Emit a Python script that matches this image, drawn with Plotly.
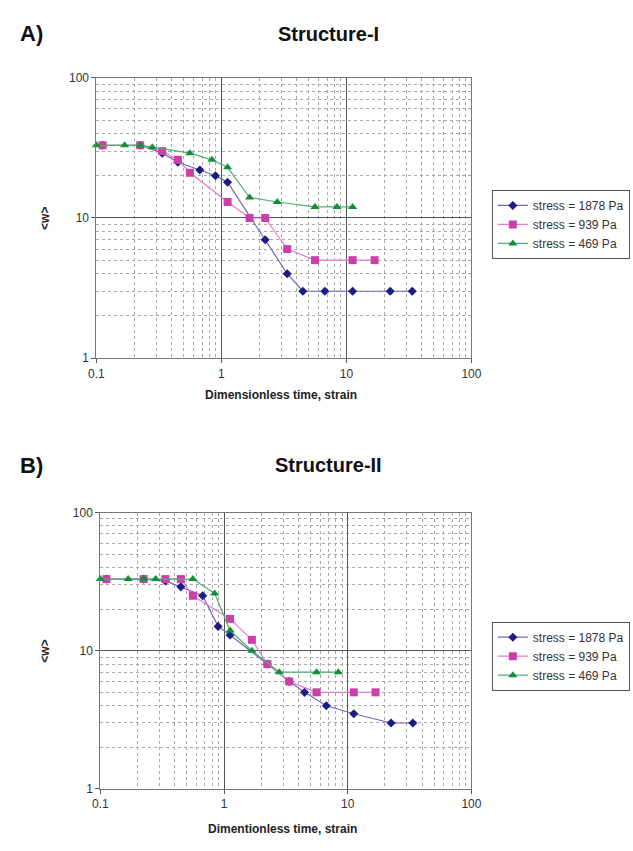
import plotly.graph_objects as go

# ---------------- Data ----------------
series_names = ["stress = 1878 Pa", "stress = 939 Pa", "stress = 469 Pa"]

# Structure-I
s1_x_1878 = [0.112, 0.224, 0.336, 0.448, 0.672, 0.896, 1.12, 2.24, 3.36, 4.48, 6.72, 11.2, 22.4, 33.6]
s1_y_1878 = [33, 33, 29, 25, 22, 20, 18, 7, 4, 3, 3, 3, 3, 3]
s1_x_939 = [0.112, 0.224, 0.336, 0.448, 0.56, 1.12, 1.68, 2.24, 3.36, 5.6, 11.2, 16.8]
s1_y_939 = [33, 33, 30, 26, 21, 13, 10, 10, 6, 5, 5, 5]
s1_x_469 = [0.1, 0.168, 0.224, 0.28, 0.56, 0.84, 1.12, 1.68, 2.8, 5.6, 8.4, 11.2]
s1_y_469 = [33, 33, 33, 32, 29, 26, 23, 14, 13, 12, 12, 12]

# Structure-II
s2_x_1878 = [0.112, 0.224, 0.336, 0.448, 0.672, 0.896, 1.12, 2.24, 3.36, 4.48, 6.72, 11.2, 22.4, 33.6]
s2_y_1878 = [33, 33, 32, 29, 25, 15, 13, 8, 6, 5, 4, 3.5, 3, 3]
s2_x_939 = [0.112, 0.224, 0.336, 0.448, 0.56, 1.12, 1.68, 2.24, 3.36, 5.6, 11.2, 16.8]
s2_y_939 = [33, 33, 33, 33, 25, 17, 12, 8, 6, 5, 5, 5]
s2_x_469 = [0.1, 0.168, 0.224, 0.28, 0.56, 0.84, 1.12, 1.68, 2.8, 5.6, 8.4]
s2_y_469 = [33, 33, 33, 33, 33, 26, 14, 10, 7, 7, 7]

x_ticks = [0.1, 1, 10, 100]
x_ticktext = ["0.1", "1", "10", "100"]
y_ticks = [1, 10, 100]
y_ticktext = ["1", "10", "100"]

titles = ["Structure-I", "Structure-II"]
panel_labels = ["A)", "B)"]
x_titles = ["Dimensionless time, strain", "Dimentionless time, strain"]
y_title = "&lt;w&gt;"

# ---------------- Styles ----------------
W, H = 633, 851
FONT = "Arial, Liberation Sans, sans-serif"
marker_colors = ["#1c1c84", "#cc3fa8", "#0e8f3a"]
line_colors = ["#6a6ab4", "#e07ccc", "#4fb070"]
symbols = ["diamond", "square", "triangle-up"]
msizes = [7, 8, 8]

minor_x = [m * d for d in (0.1, 1, 10) for m in range(2, 10)]
minor_y = [m * d for d in (1, 10) for m in range(2, 10)]


def px_x(p):
    return p / W


def px_y(p):
    return 1 - p / H


fig = go.Figure()

panels = [
    (1, [(s1_x_1878, s1_y_1878), (s1_x_939, s1_y_939), (s1_x_469, s1_y_469)], "legend"),
    (2, [(s2_x_1878, s2_y_1878), (s2_x_939, s2_y_939), (s2_x_469, s2_y_469)], "legend2"),
]

for idx, data, leg in panels:
    xa = "x" if idx == 1 else "x2"
    ya = "y" if idx == 1 else "y2"
    for i, (xs, ys) in enumerate(data):
        fig.add_trace(go.Scatter(
            x=xs, y=ys, mode="lines+markers", name=series_names[i],
            xaxis=xa, yaxis=ya, legend=leg, cliponaxis=False,
            line=dict(color=line_colors[i], width=1.2),
            marker=dict(symbol=symbols[i], size=msizes[i], color=marker_colors[i],
                        line=dict(width=0)),
        ))

# panel pixel geometry (left, right, top, bottom)
geo = {1: (91, 477, 72, 357), 2: (95, 477, 514, 795)}

axis_common = dict(
    type="log", showgrid=True, gridcolor="#555555", gridwidth=1,
    showline=True, mirror=True, linecolor="#777777", linewidth=1,
    ticks="outside", ticklen=4, tickcolor="#555555",
    tickfont=dict(family=FONT, size=12, color="#333333"),
    zeroline=False,
)

layout = dict(
    width=W, height=H, margin=dict(l=0, r=0, t=0, b=0),
    paper_bgcolor="white", plot_bgcolor="white",
    showlegend=True,
)

for idx in (1, 2):
    l, r, t, b = geo[idx]
    sx = "" if idx == 1 else "2"
    layout["xaxis" + sx] = dict(
        axis_common, domain=[px_x(l), px_x(r)], anchor="y" + sx, range=[-1, 2],
        tickmode="array", tickvals=x_ticks, ticktext=x_ticktext,
        minor=dict(tickmode="array", tickvals=minor_x, showgrid=True,
                   gridcolor="#a8a8a8", griddash="dot", gridwidth=1, ticks=""),
    )
    layout["yaxis" + sx] = dict(
        axis_common, domain=[px_y(b), px_y(t)], anchor="x" + sx, range=[0, 2],
        tickmode="array", tickvals=y_ticks, ticktext=y_ticktext,
        minor=dict(tickmode="array", tickvals=minor_y, showgrid=True,
                   gridcolor="#a8a8a8", griddash="dot", gridwidth=1, ticks=""),
    )

legend_common = dict(
    xanchor="left", yanchor="top", bgcolor="white", bordercolor="#555555",
    borderwidth=1, font=dict(family=FONT, size=12, color="#333333"),
    tracegroupgap=0, itemwidth=30,
)
layout["legend"] = dict(legend_common, x=px_x(498), y=px_y(186))
layout["legend2"] = dict(legend_common, x=px_x(498), y=px_y(625))

annotations = []
title_y = {1: 27, 2: 466}
xtitle_y = {1: 394, 2: 836}
for idx in (1, 2):
    l, r, t, b = geo[idx]
    annotations.append(dict(text="<b>" + panel_labels[idx - 1] + "</b>", x=px_x(10), y=px_y(title_y[idx]),
                            xref="paper", yref="paper", xanchor="left", yanchor="middle",
                            showarrow=False, font=dict(family=FONT, size=22, color="#111111")))
    annotations.append(dict(text="<b>" + titles[idx - 1] + "</b>", x=px_x(330), y=px_y(title_y[idx]),
                            xref="paper", yref="paper", xanchor="center", yanchor="middle",
                            showarrow=False, font=dict(family=FONT, size=20, color="#111111")))
    annotations.append(dict(text="<b>" + x_titles[idx - 1] + "</b>", x=px_x((l + r) / 2 - 3), y=px_y(xtitle_y[idx]),
                            xref="paper", yref="paper", xanchor="center", yanchor="middle",
                            showarrow=False, font=dict(family=FONT, size=12, color="#222222")))
    annotations.append(dict(text="<b>" + y_title + "</b>", x=px_x(38), y=px_y((t + b) / 2),
                            xref="paper", yref="paper", xanchor="center", yanchor="middle",
                            textangle=-90, showarrow=False,
                            font=dict(family=FONT, size=12, color="#222222")))
layout["annotations"] = annotations

fig.update_layout(**layout)
fig.write_html("out.html")
